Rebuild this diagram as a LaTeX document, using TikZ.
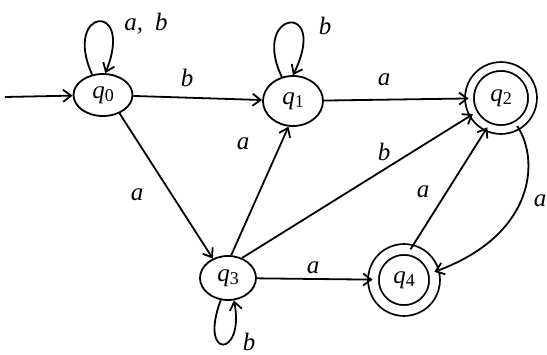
\documentclass[tikz,border=0pt]{standalone}
\usepackage{fontspec}
\setmainfont{Liberation Serif}
\usetikzlibrary{shapes.geometric,arrows.meta}
\newcommand{\st}[1]{\textit{q}\raisebox{-0.3ex}{\fontsize{18}{20}\selectfont #1}}
\begin{document}
\begin{tikzpicture}[x=1pt,y=-1pt,
  line width=1.8pt,
  every node/.style={font=\fontsize{25}{28}\selectfont},
  state/.style={draw,ellipse,inner sep=0pt},
  accept/.style={draw,circle,double,inner sep=0pt},
  lbl/.style={font=\fontsize{25}{28}\selectfont\itshape},
  arr/.style={-{Straight Barb[length=8pt,width=12pt,line width=1.8pt]}}
]
\useasboundingbox (0,0) rectangle (547,355);
\node[state,minimum width=59pt,minimum height=42pt] (q0) at (103,95) {\st{0}};
\node[state,minimum width=60pt,minimum height=50pt] (q1) at (293,101) {\st{1}};
\node[accept,double distance=7pt,minimum size=63pt] (q2) at (501,98) {\st{2}};
\node[state,minimum width=56pt,minimum height=44pt] (q3) at (228,278) {\st{3}};
\node[accept,double distance=9pt,minimum size=61pt] (q4) at (404,280) {\st{4}};
\coordinate (s) at (5,97);
% start
\draw[arr] (s) -- (q0);
% q0 loop
\draw[arr] (q0.118) .. controls (62,8) and (135,0) .. (q0.84);
\node[lbl] (l0) at (146,24) {a,\hspace{12pt}b};
% q0 -> q1
\draw[arr] (q0) -- (q1);
\node[lbl] (l1) at (187,78) {b};
% q1 loop
\draw[arr] (q1.115) .. controls (250,10) and (330,0) .. (q1.90);
\node[lbl] (l2) at (325,26) {b};
% q1 -> q2
\draw[arr] (q1) -- (q2);
\node[lbl] (l3) at (384,80) {a};
% q0 -> q3
\draw[arr] (q0.-48) -- (q3.128);
\node[lbl] (l4) at (137,195) {a};
% q3 -> q1
\draw[arr] (q3.82) -- (q1.-100);
\node[lbl] (l5) at (243,144) {a};
% q3 -> q2
\draw[arr] (q3.55) -- (q2.210);
\node[lbl] (l6) at (384,152) {b};
% q3 -> q4
\draw[arr] (q3) -- (q4);
\node[lbl] (l7) at (313,268) {a};
% q3 loop
\draw[arr] (q3.-108) .. controls (198,360) and (245,358) .. (q3.-75);
\node[lbl] (l8) at (249,342) {b};
% q4 -> q2
\draw[arr] (q4.78) -- (q2.-115);
\node[lbl] (l9) at (423,192) {a};
% q2 -> q4
\draw[arr] (q2.-60) .. controls (540,160) and (535,235) .. (q4.15);
\node[lbl] (l10) at (540,201) {a};
\end{tikzpicture}
\end{document}
